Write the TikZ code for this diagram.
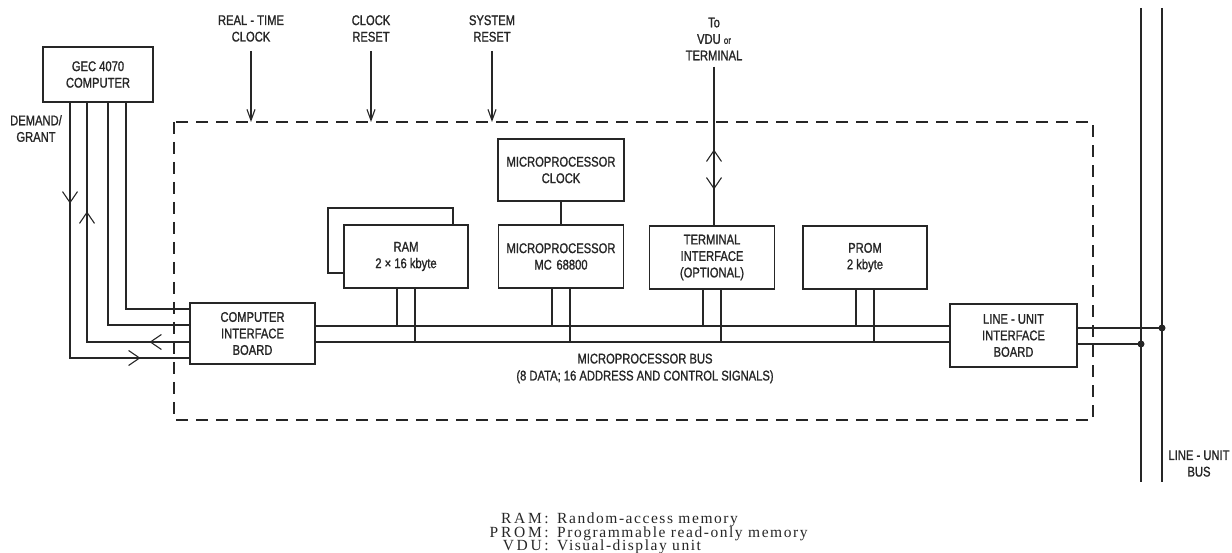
\documentclass[tikz,border=0pt]{standalone}
\usepackage{fontspec}
\usetikzlibrary{arrows.meta,positioning,decorations.markings}
\newfontfamily\condfont[FakeStretch=0.8,FakeBold=1.2]{Liberation Sans}
\newfontfamily\legfont[LetterSpace=10]{Liberation Serif}
\newfontfamily\keyfont[LetterSpace=18]{Liberation Serif}
\definecolor{ink}{RGB}{38,38,38}
\tikzset{
  blk/.style={
    draw=ink, line width=1.1pt, fill=white, align=center, inner sep=0pt,
    text=ink, font=\condfont\fontsize{14}{16.5}\selectfont
  },
  lbl/.style={align=center, inner sep=0pt, text=ink, font=\condfont\fontsize{14}{16.5}\selectfont},
  wire/.style={draw=ink, line width=1.1pt},
  sig/.style={wire, -{Straight Barb[length=11pt,width=8pt]}, shorten <=9pt},
  midbarb/.tip={Straight Barb[length=11pt,width=15pt]},
  frame/.style={draw=ink, line width=1.1pt, dash pattern=on 12pt off 8pt},
  jdot/.style={circle, fill=ink, inner sep=0pt, minimum size=7pt},
  keyw/.style={anchor=base east, inner sep=0pt, text=ink, font=\keyfont\fontsize{15.5}{15}\selectfont},
  expl/.style={anchor=base west, inner sep=0pt, text=ink, font=\legfont\fontsize{15.5}{15}\selectfont}
}
\begin{document}
\begin{tikzpicture}[x=1pt,y=-1pt]
  \useasboundingbox (0,0) rectangle (1232,553);
  \draw[frame] (174,122) rectangle (1093,420);
  \coordinate (ftop) at (0,122);
  \coordinate (bu) at (0,326);
  \coordinate (bl) at (0,342);
  \coordinate (lba) at (1141,8);
  \coordinate (lbb) at (1162,8);

  % blocks
  \node[blk, minimum width=110pt, minimum height=55pt] (gec) at (98,74.5) {GEC 4070\\COMPUTER};
  \node[blk, minimum width=126pt, minimum height=62pt] (clk) at (561,170) {MICROPROCESSOR\\CLOCK};
  \node[blk, minimum width=125pt, minimum height=65pt] (ramb) at (390.5,240.5) {};
  \node[blk, minimum width=124pt, minimum height=63pt] (ram) at (406,256.5) {RAM\\2 × 16 kbyte};
  \node[blk, minimum width=125pt, minimum height=63pt] (mpu) at (561,256.5) {MICROPROCESSOR\\MC\,\,68800};
  \node[blk, minimum width=125pt, minimum height=63pt] (term) at (712,257.5) {TERMINAL\\INTERFACE\\(OPTIONAL)};
  \node[blk, minimum width=124pt, minimum height=63pt] (prom) at (865,257.5) {PROM\\2 kbyte};
  \node[blk, minimum width=125pt, minimum height=61pt] (cib) at (252.5,333.5) {COMPUTER\\INTERFACE\\BOARD};
  \node[blk, minimum width=127pt, minimum height=63pt] (luib) at (1013.5,335.5) {LINE - UNIT\\INTERFACE\\BOARD};

  % labels
  \node[lbl] (dg) at (36,128.5) {DEMAND/\\GRANT};
  \node[lbl] (rtc) at (251,28.5) {REAL - TIME\\CLOCK};
  \node[lbl] (crst) at (371,28.5) {CLOCK\\RESET};
  \node[lbl] (srst) at (492,28.5) {SYSTEM\\RESET};
  \node[lbl] (tvdu) at (714,39) {To\\VDU {\fontsize{10}{12}\selectfont or}\\TERMINAL};
  \node[lbl, font=\condfont\fontsize{14}{17}\selectfont] (mbus) at (645,368.5) {MICROPROCESSOR BUS\\(8 DATA; 16 ADDRESS AND CONTROL SIGNALS)};
  \node[lbl] (lbus) at (1199,463.5) {LINE - UNIT\\BUS};

  % control inputs
  \foreach \s in {rtc,crst,srst}
    \draw[sig] (\s.south) -- (\s.south |- ftop);
  \draw[wire, postaction=decorate, decoration={markings,
      mark=at position 83pt with {\arrowreversed{midbarb}},
      mark=at position 123pt with {\arrow{midbarb}}}]
    ([yshift=-6pt]tvdu.south) -- (tvdu.south |- term.north);
  \draw[wire] (clk) -- (mpu);

  % computer wires
  \draw[wire] ([xshift=28pt]gec.south) |- ([yshift=24.5pt]cib.west);
  \draw[wire] ([xshift=10pt]gec.south) |- ([yshift=8.5pt]cib.west);
  \draw[wire, postaction=decorate, decoration={markings,
      mark=at position 40pt with {\arrow{midbarb}},
      mark=at position 233pt with {\arrow{midbarb}}}]
    ([yshift=-8.5pt]cib.west) -| ([xshift=-11pt]gec.south);
  \draw[wire, postaction=decorate, decoration={markings,
      mark=at position 101pt with {\arrow{midbarb}},
      mark=at position 326pt with {\arrow{midbarb}}}]
    ([xshift=-28pt]gec.south) |- ([yshift=-24.5pt]cib.west);

  % microprocessor bus
  \draw[wire] (cib.east |- bu) -- (luib.west |- bu);
  \draw[wire] (cib.east |- bl) -- (luib.west |- bl);
  \foreach \b in {ram,mpu,term,prom} {
    \draw[wire] ([xshift=-9pt]\b.south) -- ([xshift=-9pt]\b.south |- bu);
    \draw[wire] ([xshift=9pt]\b.south) -- ([xshift=9pt]\b.south |- bl);
  }

  % line-unit bus
  \draw[wire] (lba) -- ++(0,474);
  \draw[wire] (lbb) -- ++(0,474);
  \draw[wire] ([yshift=7.5pt]luib.east) -- ([yshift=7.5pt]luib.east -| lbb) node[jdot] {};
  \draw[wire] ([yshift=-8.5pt]luib.east) -- ([yshift=-8.5pt]luib.east -| lba) node[jdot] {};

  % legend
  \foreach \k/\t/\y in {RAM/Random-access memory/523.5, PROM/Programmable read-only memory/537, VDU/Visual-display unit/550.5} {
    \node[keyw] (k\k) at (549,\y) {\k\,:};
    \node[expl] (t\k) at (557,\y) {\t};
  }
\end{tikzpicture}
\end{document}
